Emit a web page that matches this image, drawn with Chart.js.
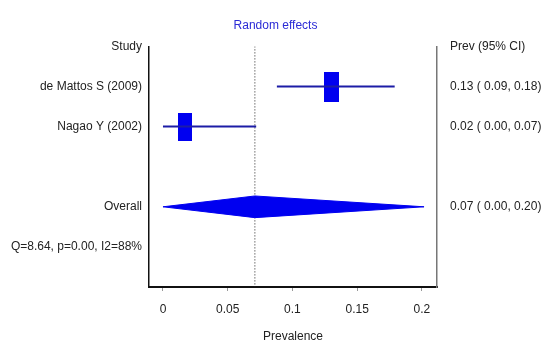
<!DOCTYPE html>
<html>
<head>
<meta charset="utf-8">
<script src="https://cdn.jsdelivr.net/npm/chart.js@4.4.1/dist/chart.umd.min.js"></script>
<style>
  html, body { margin: 0; padding: 0; background: #fff; }
  #wrap { width: 551px; height: 348px; }
</style>
</head>
<body>
<div id="wrap"><canvas id="myChart" width="551" height="348"></canvas></div>
<script>
// rows, top to bottom (index = y position)
var rowLabels = ['Study', 'de Mattos S (2009)', 'Nagao Y (2002)', '', 'Overall', 'Q=8.64, p=0.00, I2=88%', ''];
var ciLabels = ['Prev (95% CI)', '0.13 ( 0.09, 0.18)', '0.02 ( 0.00, 0.07)', '', '0.07 ( 0.00, 0.20)', '', ''];

// studies
var studyRows = [1, 2];
var studyEst = [0.130, 0.017];
var studyLo = [0.088, 0.0];
var studyHi = [0.179, 0.072];

// pooled estimate
var overallRow = 4;
var overallEst = 0.071;
var overallLo = 0.0;
var overallHi = 0.2017;

var xTicks = [0, 0.05, 0.1, 0.15, 0.2];

var lineColor = '#1c1ca6';
var boxColor = '#0000f0';
var fontFam = "'Liberation Sans Narrow', 'Liberation Sans', sans-serif";
var fontW = 'condensed';
var fs = 12;

function makeBox(w, h) {
    var c = document.createElement('canvas');
    c.width = w; c.height = h;
    var g = c.getContext('2d');
    g.fillStyle = boxColor;
    g.fillRect(0, 0, w, h);
    return c;
}
var boxSizes = [[15, 30], [14, 28]];

var datasets = [];
for (var i = 0; i < studyEst.length; i++) {
    datasets.push({
        type: 'line',
        data: [{x: studyLo[i], y: studyRows[i]}, {x: studyHi[i], y: studyRows[i]}],
        borderColor: lineColor,
        borderWidth: 2,
        pointRadius: 0,
        fill: false
    });
    datasets.push({
        type: 'scatter',
        data: [{x: studyEst[i], y: studyRows[i]}],
        pointStyle: makeBox(boxSizes[i][0], boxSizes[i][1]),
        pointRadius: 10
    });
}
// diamond, two halves filled between
var dh = 0.27;
datasets.push({
    type: 'line',
    data: [{x: overallLo, y: overallRow}, {x: overallEst, y: overallRow - dh}, {x: overallHi, y: overallRow}],
    borderColor: boxColor, backgroundColor: boxColor, borderWidth: 1, pointRadius: 0, fill: false
});
datasets.push({
    type: 'line',
    data: [{x: overallLo, y: overallRow}, {x: overallEst, y: overallRow + dh}, {x: overallHi, y: overallRow}],
    borderColor: boxColor, backgroundColor: boxColor, borderWidth: 1, pointRadius: 0, fill: '-1'
});
// dotted line at the pooled estimate
datasets.push({
    type: 'line',
    data: [{x: overallEst, y: 0}, {x: overallEst, y: rowLabels.length - 1}],
    borderColor: '#222',
    borderWidth: 1,
    borderDash: [1, 2],
    pointRadius: 0,
    fill: false
});

const ctx = document.getElementById('myChart').getContext('2d');
const myChart = new Chart(ctx, {
    type: 'scatter',
    data: { datasets: datasets },
    options: {
        responsive: false,
        animation: false,
        layout: { padding: { top: 0, left: 0, right: 0, bottom: 0 } },
        plugins: {
            legend: { display: false },
            tooltip: { enabled: false },
            title: {
                display: true,
                text: 'Random effects',
                color: '#2b2bd6',
                font: { family: fontFam, size: fs, weight: fontW },
                padding: { top: 18, bottom: 14 }
            }
        },
        scales: {
            x: {
                type: 'linear',
                min: -0.0108,
                max: 0.2117,
                afterBuildTicks: function (s) { s.ticks = xTicks.map(function (v) { return {value: v}; }); },
                ticks: {
                    color: '#222',
                    font: { family: fontFam, size: fs, weight: fontW },
                    padding: 11,
                    maxRotation: 0,
                    callback: function (v) { return String(+v.toFixed(2)); }
                },
                grid: { drawOnChartArea: false, drawTicks: true, tickLength: 4, color: '#999' },
                border: { color: '#111', width: 2 },
                title: {
                    display: true,
                    text: 'Prevalence',
                    color: '#222',
                    font: { family: fontFam, size: fs, weight: fontW },
                    padding: { top: 0, bottom: 4 }
                },
                afterFit: function (s) { s.height = 61; }
            },
            y: {
                type: 'linear',
                position: 'left',
                reverse: true,
                min: 0,
                max: rowLabels.length - 1,
                afterBuildTicks: function (s) { s.ticks = rowLabels.map(function (l, k) { return {value: k}; }); },
                ticks: {
                    color: '#222',
                    font: { family: fontFam, size: fs, weight: fontW },
                    padding: 7,
                    callback: function (v) { return rowLabels[v]; }
                },
                grid: { display: false, drawTicks: false },
                border: { display: true, color: '#111', width: 1.5 },
                afterFit: function (s) { s.width = 149; }
            },
            y2: {
                type: 'linear',
                position: 'right',
                reverse: true,
                min: 0,
                max: ciLabels.length - 1,
                afterBuildTicks: function (s) { s.ticks = ciLabels.map(function (l, k) { return {value: k}; }); },
                ticks: {
                    color: '#222',
                    font: { family: fontFam, size: fs, weight: fontW },
                    padding: 13,
                    callback: function (v) { return ciLabels[v]; }
                },
                grid: { display: false, drawTicks: false },
                border: { display: true, color: '#777', width: 1.5 },
                afterFit: function (s) { s.width = 114; }
            }
        }
    }
});
</script>
</body>
</html>
